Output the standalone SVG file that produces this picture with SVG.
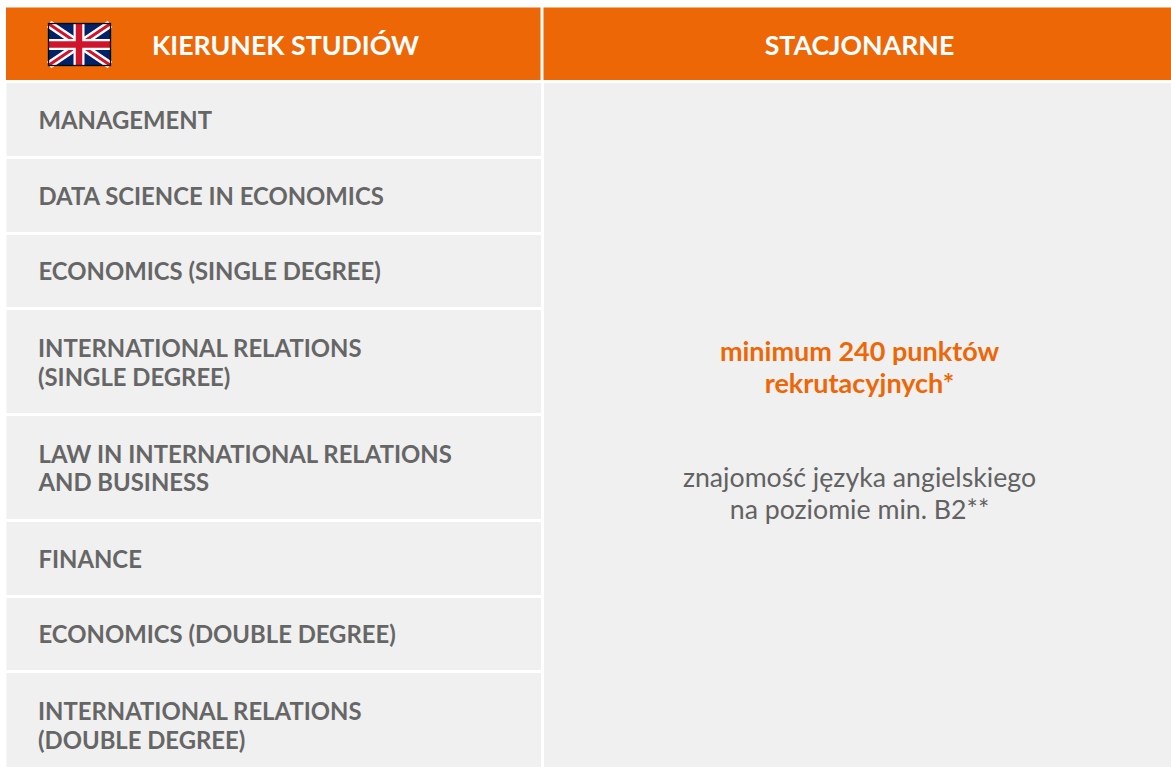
<svg xmlns="http://www.w3.org/2000/svg" width="1171" height="767" viewBox="0 0 1171 767">
<style>
.h{fill:#ee6707}
.c{fill:#f0f0f0}
text{font-family:Lato,"Liberation Sans",sans-serif}
.t{font-size:23.850px;font-weight:700;fill:#666}
.th{font-size:26.700px;font-weight:700;fill:#fff}
.o{font-size:27px;font-weight:700;fill:#ee6707;text-anchor:middle}
.g{font-size:26.700px;fill:#626262;text-anchor:middle}
</style>
<rect width="1171" height="767" fill="#fff"/>
<g id="header-left"><rect class="h" x="6" y="7.500" width="534.500" height="72.500"/>
<g id="flag"><rect x="48" y="23" width="63" height="43" fill="#012169"/>
<path d="M49 24L110 65M110 24L49 65" stroke="#fff" stroke-width="8"/>
<path d="M49 24L110 65M110 24L49 65" stroke="#cf142b" stroke-width="3"/>
<path d="M79 24V65M49 44.500H110" stroke="#fff" stroke-width="11"/>
<path d="M79 24V65M49 44.500H110" stroke="#cf142b" stroke-width="6.500"/>
<rect x="48.500" y="23.500" width="62" height="42" fill="none" stroke="#000" stroke-width="1.300"/></g>
<text class="th" x="152" y="54.500">KIERUNEK STUDIÓW</text></g>
<g id="header-right"><rect class="h" x="543.500" y="7.500" width="627.500" height="72.500"/>
<text class="th" x="859.500" y="54.500" text-anchor="middle">STACJONARNE</text></g>
<g id="row-1"><rect class="c" x="6.500" y="83" width="534.500" height="73"/><text class="t" x="38.500" y="129">MANAGEMENT</text></g>
<g id="row-2"><rect class="c" x="6.500" y="159" width="534.500" height="73"/><text class="t" x="38.500" y="205">DATA SCIENCE IN ECONOMICS</text></g>
<g id="row-3"><rect class="c" x="6.500" y="235" width="534.500" height="72"/><text class="t" x="38.500" y="280">ECONOMICS (SINGLE DEGREE)</text></g>
<g id="row-4"><rect class="c" x="6.500" y="310" width="534.500" height="103"/><text class="t" x="38" y="357">INTERNATIONAL RELATIONS</text><text class="t" x="38" y="386">(SINGLE DEGREE)</text></g>
<g id="row-5"><rect class="c" x="6.500" y="416" width="534.500" height="103"/><text class="t" x="38.500" y="463">LAW IN INTERNATIONAL RELATIONS</text><text class="t" x="38.500" y="491">AND BUSINESS</text></g>
<g id="row-6"><rect class="c" x="6.500" y="522" width="534.500" height="73"/><text class="t" x="38.500" y="568">FINANCE</text></g>
<g id="row-7"><rect class="c" x="6.500" y="598" width="534.500" height="72"/><text class="t" x="38.500" y="643">ECONOMICS (DOUBLE DEGREE)</text></g>
<g id="row-8"><rect class="c" x="6.500" y="673" width="534.500" height="94"/><text class="t" x="38" y="720">INTERNATIONAL RELATIONS</text><text class="t" x="38" y="749">(DOUBLE DEGREE)</text></g>
<g id="requirements"><rect class="c" x="544" y="83" width="627" height="684"/>
<text class="o" x="859.500" y="361">minimum 240 punktów</text><text class="o" x="859.500" y="393">rekrutacyjnych*</text>
<text class="g" x="859.500" y="487">znajomość języka angielskiego</text><text class="g" x="859.500" y="519">na poziomie min. B2**</text></g>
</svg>
